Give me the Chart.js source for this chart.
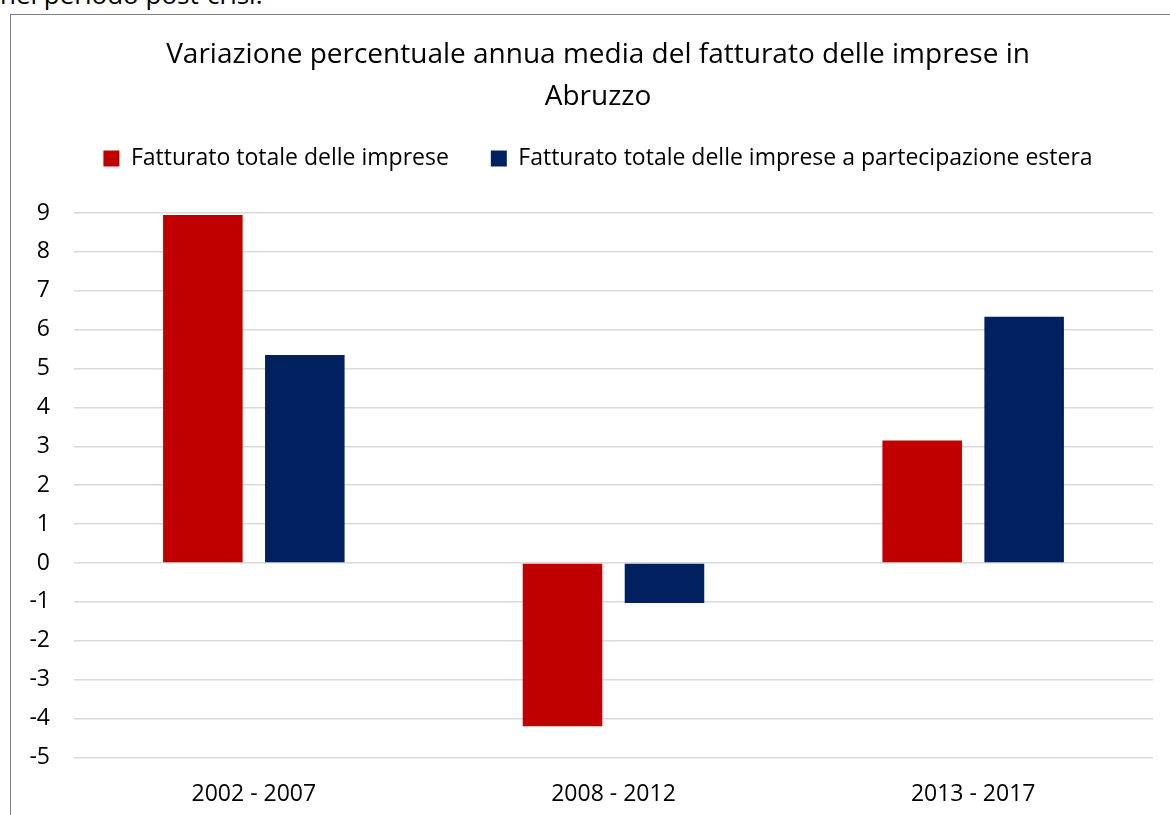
<!DOCTYPE html>
<html>
<head>
<meta charset="utf-8">
<script src="https://cdn.jsdelivr.net/npm/chart.js@4.4.0/dist/chart.umd.min.js"></script>
<style>
  body { margin: 0; background: #fff; overflow: hidden; font-family: "Open Sans", sans-serif; }
  #above { position: absolute; left: 0; top: -24px; font-size: 26px; color: #000; white-space: nowrap; }
  #frame { position: absolute; left: 10px; top: 14px; width: 1180px; height: 820px; border: 1px solid #7f7f7f; box-sizing: border-box; }
  #wrap { position: absolute; left: 0; top: 0; width: 1174px; height: 808px; }
</style>
</head>
<body>
<div id="above">nel periodo post-crisi.</div>
<div id="frame"><div id="wrap"><canvas id="c"></canvas></div></div>
<script>
const categories = ['2002 - 2007', '2008 - 2012', '2013 - 2017']
const fatturatoTotale = [8.95, -4.2, 3.15]
const fatturatoEstero = [5.35, -1.03, 6.33]
const seriesNames = ['Fatturato totale delle imprese', 'Fatturato totale delle imprese a partecipazione estera']
const titleLines = ['Variazione percentuale annua media del fatturato delle imprese in', 'Abruzzo']

const font = '"Open Sans", sans-serif'
const textSize = 23

// extra room under the legend, like the original
const legendGap = {
  id: 'legendGap',
  beforeInit(chart) {
    const fit = chart.legend.fit
    chart.legend.fit = function() {
      fit.bind(chart.legend)()
      this.height += 33
    }
  }
}

new Chart(document.getElementById('c'), {
  type: 'bar',
  data: {
    labels: categories,
    datasets: [{
      label: seriesNames[0],
      data: fatturatoTotale,
      backgroundColor: '#C00000',
      barPercentage: 0.78,
      categoryPercentage: 0.567
    }, {
      label: seriesNames[1],
      data: fatturatoEstero,
      backgroundColor: '#002060',
      barPercentage: 0.78,
      categoryPercentage: 0.567
    }]
  },
  plugins: [legendGap],
  options: {
    responsive: true,
    maintainAspectRatio: false,
    animation: false,
    layout: { padding: 0 },
    plugins: {
      title: {
        display: true,
        text: titleLines,
        color: '#000',
        font: { family: font, size: 28, weight: 'normal', lineHeight: 1.5 },
        padding: { top: 19, bottom: -13 }
      },
      legend: {
        labels: {
          color: '#000',
          font: { family: font, size: textSize },
          boxWidth: 16,
          boxHeight: 16,
          padding: 42
        }
      },
      tooltip: { enabled: false }
    },
    scales: {
      x: {
        grid: { display: false },
        border: { display: false },
        ticks: { color: '#000', font: { family: font, size: textSize }, padding: 15 }
      },
      y: {
        min: -5,
        max: 9,
        ticks: { stepSize: 1, color: '#000', font: { family: font, size: textSize }, padding: 24 },
        grid: { color: '#d9d9d9', lineWidth: 1.5, drawTicks: false },
        border: { display: false },
        afterFit: function(scale) { scale.width = 63 }
      },
      yRight: {
        position: 'right',
        min: -5,
        max: 9,
        ticks: { display: false },
        grid: { display: false },
        border: { display: false },
        afterFit: function(scale) { scale.width = 32 }
      }
    }
  }
})
</script>
</body>
</html>
